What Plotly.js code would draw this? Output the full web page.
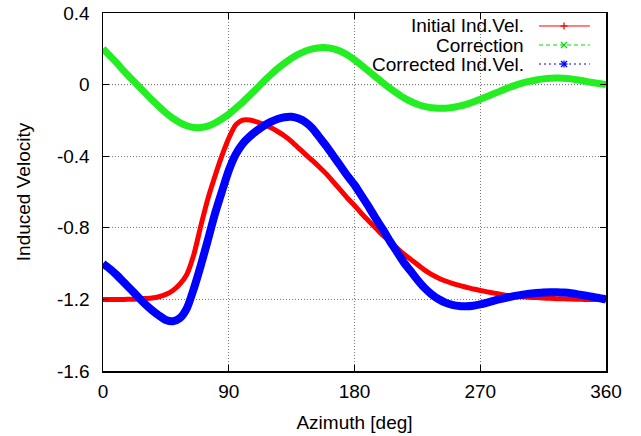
<!DOCTYPE html>
<html><head><meta charset="utf-8">
<script src="https://cdn.plot.ly/plotly-3.0.1.min.js"></script>
<style>html,body{margin:0;padding:0;background:#fff}#chart{width:641px;height:436px}</style>
</head><body><div id="chart"></div>
<script>
const azimuth = [0,5,10,15,20,25,30,35,40,45,50,55,60,65,70,75,80,85,90,95,100,105,110,115,120,125,130,135,140,145,150,155,160,165,170,175,180,185,190,195,200,205,210,215,220,225,230,235,240,245,250,255,260,265,270,275,280,285,290,295,300,305,310,315,320,325,330,335,340,345,350,355,360];

const initialIndVel = [-1.200,-1.200,-1.200,-1.200,-1.199,-1.198,-1.195,-1.192,-1.185,-1.172,-1.150,-1.115,-1.060,
  -0.950,-0.790,-0.640,-0.515,-0.400,-0.300,-0.225,-0.198,-0.198,-0.208,-0.222,-0.240,
  -0.262,-0.287,-0.318,-0.355,-0.390,-0.425,-0.462,-0.500,-0.545,-0.590,-0.635,-0.675,
  -0.720,-0.760,-0.800,-0.840,-0.875,-0.910,-0.945,-0.975,-1.005,-1.035,-1.060,-1.080,
  -1.097,-1.110,-1.122,-1.132,-1.142,-1.150,-1.158,-1.165,-1.172,-1.178,-1.182,-1.185,
  -1.188,-1.190,-1.192,-1.194,-1.196,-1.197,-1.198,-1.199,-1.200,-1.200,-1.200,-1.200];

const correction = [0.200,0.160,0.120,0.075,0.035,-0.005,-0.045,-0.085,-0.122,-0.158,-0.188,-0.212,-0.230,
  -0.240,-0.240,-0.232,-0.215,-0.192,-0.165,-0.132,-0.098,-0.060,-0.022,0.018,0.055,
  0.090,0.120,0.148,0.170,0.188,0.200,0.206,0.206,0.200,0.186,0.165,0.138,
  0.108,0.076,0.044,0.012,-0.018,-0.046,-0.072,-0.093,-0.110,-0.122,-0.129,-0.132,
  -0.132,-0.128,-0.120,-0.110,-0.097,-0.082,-0.066,-0.050,-0.034,-0.018,-0.004,0.008,
  0.018,0.026,0.032,0.036,0.037,0.036,0.032,0.026,0.019,0.012,0.006,0.000];

const correctedIndVel = [-1.000,-1.030,-1.065,-1.105,-1.145,-1.185,-1.225,-1.260,-1.290,-1.315,-1.322,-1.305,-1.250,
  -1.140,-1.010,-0.870,-0.725,-0.600,-0.480,-0.390,-0.330,-0.290,-0.258,-0.230,-0.208,
  -0.192,-0.182,-0.180,-0.190,-0.210,-0.245,-0.295,-0.345,-0.400,-0.455,-0.510,-0.560,
  -0.620,-0.680,-0.745,-0.805,-0.870,-0.930,-0.990,-1.040,-1.090,-1.135,-1.170,-1.198,
  -1.218,-1.230,-1.237,-1.238,-1.235,-1.228,-1.218,-1.207,-1.197,-1.188,-1.180,-1.174,
  -1.168,-1.164,-1.161,-1.160,-1.160,-1.162,-1.166,-1.172,-1.178,-1.185,-1.192,-1.200];

const seriesNames = ['Initial Ind.Vel.', 'Correction', 'Corrected Ind.Vel.'];
const xTickVals = [0, 90, 180, 270, 360];
const xTickText = ['0', '90', '180', '270', '360'];
const yTickVals = [-1.6, -1.2, -0.8, -0.4, 0, 0.4];
const yTickText = ['-1.6', '-1.2', '-0.8', '-0.4', '0', '0.4'];

const FONT = 'Liberation Sans, Arial, Helvetica, sans-serif';
const FS = 19;

const traces = [
  {x: azimuth, y: initialIndVel, name: seriesNames[0], mode: 'lines', showlegend: false,
   line: {color: '#ff0000', width: 5, shape: 'spline', smoothing: 0.6}},
  {x: azimuth, y: correction, name: seriesNames[1], mode: 'lines', showlegend: false,
   line: {color: '#22ee22', width: 7, shape: 'spline', smoothing: 0.6}},
  {x: azimuth, y: correctedIndVel, name: seriesNames[2], mode: 'lines', showlegend: false,
   line: {color: '#0000ff', width: 8, shape: 'spline', smoothing: 0.6}}
];

// Legend (gnuplot style: right-aligned text, sample on the right)
const legendStyle = [
  {color: '#ff0000', dash: 'solid', marker: 'plus', y: 0.9637},
  {color: '#00dd00', dash: '4px,3px', marker: 'cross', y: 0.9106},
  {color: '#0000ff', dash: '2px,3px', marker: 'star', y: 0.8575}
];
const annotations = [];
const shapes = [
  {type: 'line', xref: 'paper', yref: 'y', x0: 0, x1: 1, y0: 0, y1: 0,
   line: {color: '#000', width: 1, dash: '1px,2px'}, layer: 'below'}
];
legendStyle.forEach((s, i) => {
  annotations.push({xref: 'paper', yref: 'paper', x: 0.841, y: s.y, xanchor: 'right', yanchor: 'middle',
    text: seriesNames[i], showarrow: false, font: {family: FONT, size: FS, color: '#000'}});
  shapes.push({type: 'line', xref: 'paper', yref: 'paper', x0: 0.8668, x1: 0.968, y0: s.y, y1: s.y,
    line: {color: s.color, width: 1, dash: s.dash}});
  const segs = [];
  if (s.marker === 'plus' || s.marker === 'star') { segs.push([-3.5,0,3.5,0]); segs.push([0,-3.5,0,3.5]); }
  if (s.marker === 'cross' || s.marker === 'star') { segs.push([-3,-3,3,3]); segs.push([-3,3,3,-3]); }
  segs.forEach(g => shapes.push({type: 'line', xref: 'paper', yref: 'paper',
    xsizemode: 'pixel', ysizemode: 'pixel', xanchor: 0.9165, yanchor: s.y,
    x0: g[0], y0: g[1], x1: g[2], y1: g[3], line: {color: s.color, width: 1.3}}));
});

const axisCommon = {
  showline: true, linecolor: '#000', linewidth: 1.5, mirror: 'ticks',
  ticks: 'inside', ticklen: 6, tickcolor: '#000', tickwidth: 1,
  showgrid: true, gridcolor: '#777', griddash: '1px,2px', gridwidth: 1,
  zeroline: false, tickfont: {family: FONT, size: FS, color: '#000'}
};

const layout = {
  width: 641, height: 436,
  margin: {l: 103, r: 35, t: 13, b: 65},
  paper_bgcolor: '#fff', plot_bgcolor: '#fff',
  font: {family: FONT, size: FS, color: '#000'},
  showlegend: false,
  xaxis: Object.assign({}, axisCommon, {range: [0, 360], tickmode: 'array', tickvals: xTickVals, ticktext: xTickText,
    ticklabelstandoff: 3,
    title: {text: 'Azimuth [deg]', font: {family: FONT, size: FS, color: '#000'}, standoff: 14}}),
  yaxis: Object.assign({}, axisCommon, {range: [-1.6, 0.4], tickmode: 'array', tickvals: yTickVals, ticktext: yTickText,
    ticklabelstandoff: 8,
    title: {text: 'Induced Velocity', font: {family: FONT, size: FS, color: '#000'}, standoff: 21}}),
  annotations: annotations,
  shapes: shapes
};

Plotly.newPlot('chart', traces, layout, {staticPlot: true, displayModeBar: false});
</script>
</body></html>
